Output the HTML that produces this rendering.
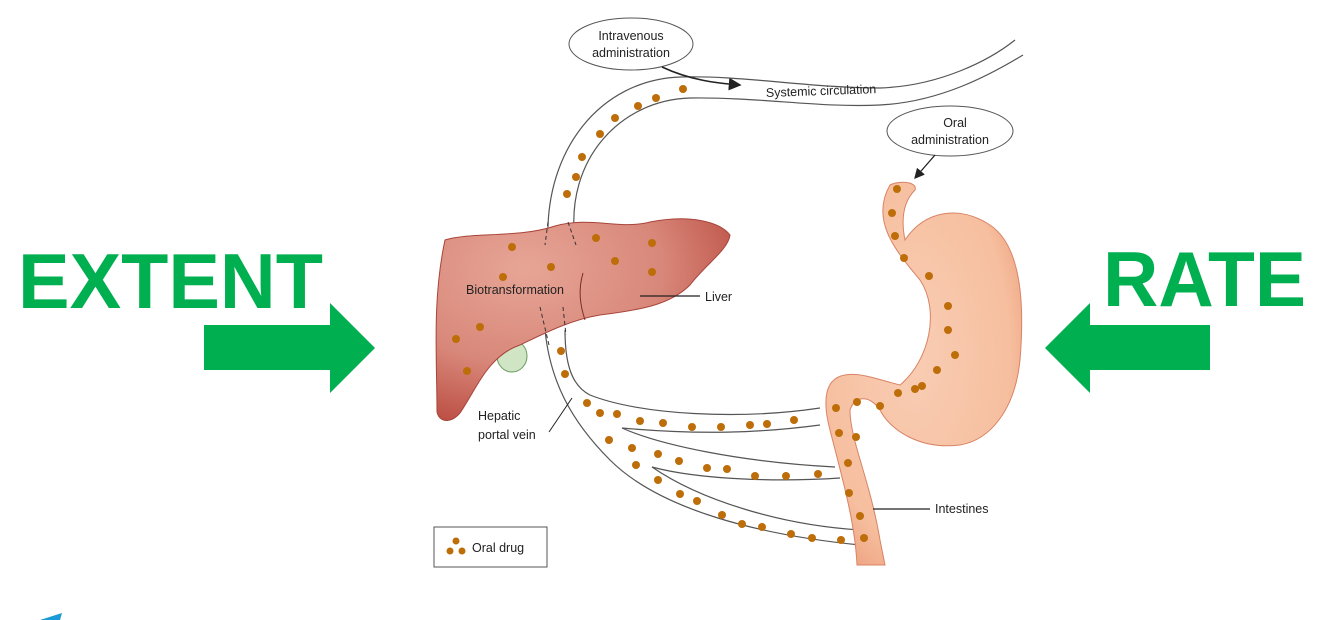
<!DOCTYPE html>
<html><head><meta charset="utf-8"><style>
html,body{margin:0;padding:0;background:#fff;}
svg{display:block}
</style></head><body>
<svg width="1334" height="620" viewBox="0 0 1334 620" xmlns="http://www.w3.org/2000/svg" font-family="Liberation Sans, sans-serif">
<defs>
<radialGradient id="lv" cx="0.3" cy="0.25" r="0.85"><stop offset="0" stop-color="#e7a596"/><stop offset="0.55" stop-color="#d8887a"/><stop offset="1" stop-color="#b8463c"/></radialGradient>
<radialGradient id="st" cx="0.45" cy="0.45" r="0.7"><stop offset="0" stop-color="#f9cdb4"/><stop offset="0.7" stop-color="#f6bf9f"/><stop offset="1" stop-color="#ea9774"/></radialGradient>
<marker id="ar" markerWidth="8" markerHeight="8" refX="7" refY="4" orient="auto"><path d="M0,0 L8,4 L0,8 z" fill="#222"/></marker>
</defs>

<text x="18" y="308" font-size="78" font-weight="bold" fill="#00b050" textLength="305" lengthAdjust="spacingAndGlyphs">EXTENT</text>
<text x="1103" y="306" font-size="78" font-weight="bold" fill="#00b050" textLength="203" lengthAdjust="spacingAndGlyphs">RATE</text>
<polygon points="204,325 330,325 330,303 375,348 330,393 330,370 204,370" fill="#00b050"/>
<polygon points="1210,325 1090,325 1090,303 1045,348 1090,393 1090,370 1210,370" fill="#00b050"/>
<path d="M40,620 L62,613 L60,620 z" fill="#1a9ad6"/>

<path d="M548,240 C545,150 600,80 680,77 C740,75 810,88 880,88 C940,86 990,60 1015,40" fill="none" stroke="#555" stroke-width="1.2"/>
<path d="M575,240 C565,160 620,100 690,98 C760,97 820,108 880,105 C940,102 990,75 1023,55" fill="none" stroke="#555" stroke-width="1.2"/>

<g fill="none" stroke="#555" stroke-width="1.2">
<path d="M545,330 C550,380 570,420 610,460 C660,510 760,535 860,545"/>
<path d="M565,330 C565,360 570,385 590,395 C640,415 740,420 820,408"/>
<path d="M622,428 C700,435 760,433 820,425"/>
<path d="M622,428 C660,445 740,462 835,467"/>
<path d="M652,467 C700,480 780,482 840,478"/>
<path d="M652,467 C700,500 780,525 860,530"/>
</g>

<ellipse cx="512" cy="356" rx="15" ry="16" fill="#cfe5c4" stroke="#6a9a60"/>
<path d="M445,240 C470,232 520,238 555,226 C590,216 620,230 650,222 C690,214 720,222 730,235 C728,250 705,265 690,285 C670,305 640,310 600,315 C570,320 545,333 520,345 C490,355 478,385 462,410 C455,422 440,425 437,412 C437,360 432,300 445,240 Z" fill="url(#lv)" stroke="#a8443a" stroke-width="1"/>
<path d="M583,273 C578,290 580,305 585,320" fill="none" stroke="#7a2e28" stroke-width="1"/>
<path d="M540,307 L549,345" stroke="#333" stroke-dasharray="4,3" fill="none"/>
<path d="M563,307 L566,335" stroke="#333" stroke-dasharray="4,3" fill="none"/>
<path d="M548,222 L545,245" stroke="#333" stroke-dasharray="4,3" fill="none"/>
<path d="M568,222 L576,245" stroke="#333" stroke-dasharray="4,3" fill="none"/>

<path d="M890,185 C900,180 918,182 915,190 C905,200 900,215 905,240 C925,210 960,205 990,225 C1020,245 1025,300 1020,360 C1015,410 990,440 960,445 C920,450 890,430 880,410 C870,395 855,395 850,410 C850,440 870,480 880,540 L885,565 L857,565 C855,520 840,470 830,430 C822,400 825,378 845,375 C860,372 880,380 900,385 C930,360 940,310 920,280 C895,250 870,220 890,185 Z" fill="url(#st)" stroke="#d98365" stroke-width="1"/>

<g fill="#bd6e08">
<circle cx="683" cy="89" r="4"/><circle cx="656" cy="98" r="4"/><circle cx="638" cy="106" r="4"/><circle cx="615" cy="118" r="4"/><circle cx="600" cy="134" r="4"/><circle cx="582" cy="157" r="4"/><circle cx="576" cy="177" r="4"/><circle cx="567" cy="194" r="4"/>
<circle cx="512" cy="247" r="4"/><circle cx="596" cy="238" r="4"/><circle cx="652" cy="243" r="4"/><circle cx="551" cy="267" r="4"/><circle cx="615" cy="261" r="4"/><circle cx="652" cy="272" r="4"/><circle cx="503" cy="277" r="4"/>
<circle cx="456" cy="339" r="4"/><circle cx="480" cy="327" r="4"/><circle cx="467" cy="371" r="4"/>
<circle cx="561" cy="351" r="4"/><circle cx="565" cy="374" r="4"/>
<circle cx="587" cy="403" r="4"/><circle cx="600" cy="413" r="4"/><circle cx="617" cy="414" r="4"/><circle cx="640" cy="421" r="4"/><circle cx="663" cy="423" r="4"/><circle cx="692" cy="427" r="4"/><circle cx="721" cy="427" r="4"/><circle cx="750" cy="425" r="4"/><circle cx="767" cy="424" r="4"/><circle cx="794" cy="420" r="4"/>
<circle cx="609" cy="440" r="4"/><circle cx="632" cy="448" r="4"/><circle cx="658" cy="454" r="4"/><circle cx="679" cy="461" r="4"/><circle cx="707" cy="468" r="4"/><circle cx="727" cy="469" r="4"/><circle cx="755" cy="476" r="4"/><circle cx="786" cy="476" r="4"/><circle cx="818" cy="474" r="4"/>
<circle cx="636" cy="465" r="4"/><circle cx="658" cy="480" r="4"/><circle cx="680" cy="494" r="4"/><circle cx="697" cy="501" r="4"/><circle cx="722" cy="515" r="4"/><circle cx="742" cy="524" r="4"/><circle cx="762" cy="527" r="4"/><circle cx="791" cy="534" r="4"/><circle cx="812" cy="538" r="4"/><circle cx="841" cy="540" r="4"/>
<circle cx="836" cy="408" r="4"/><circle cx="857" cy="402" r="4"/><circle cx="880" cy="406" r="4"/><circle cx="898" cy="393" r="4"/><circle cx="915" cy="389" r="4"/>
<circle cx="839" cy="433" r="4"/><circle cx="848" cy="463" r="4"/><circle cx="849" cy="493" r="4"/><circle cx="860" cy="516" r="4"/><circle cx="864" cy="538" r="4"/><circle cx="856" cy="437" r="4"/>
<circle cx="897" cy="189" r="4"/><circle cx="892" cy="213" r="4"/><circle cx="895" cy="236" r="4"/><circle cx="904" cy="258" r="4"/><circle cx="929" cy="276" r="4"/><circle cx="948" cy="306" r="4"/><circle cx="948" cy="330" r="4"/><circle cx="955" cy="355" r="4"/><circle cx="937" cy="370" r="4"/><circle cx="922" cy="386" r="4"/>
</g>

<ellipse cx="631" cy="44" rx="62" ry="26" fill="#fff" stroke="#555"/>
<text x="631" y="40" font-size="12.5" text-anchor="middle" fill="#222">Intravenous</text>
<text x="631" y="57" font-size="12.5" text-anchor="middle" fill="#222">administration</text>
<path d="M662,67 C690,80 715,83 740,85" fill="none" stroke="#222" stroke-width="1.6" marker-end="url(#ar)"/>
<text x="766" y="97" font-size="12.5" fill="#222" transform="rotate(-2 766 97)">Systemic circulation</text>
<ellipse cx="950" cy="131" rx="63" ry="25" fill="#fff" stroke="#555"/>
<text x="955" y="127" font-size="12.5" text-anchor="middle" fill="#222">Oral</text>
<text x="950" y="144" font-size="12.5" text-anchor="middle" fill="#222">administration</text>
<path d="M935,155 L915,178" stroke="#222" stroke-width="1.3" marker-end="url(#ar)"/>
<text x="466" y="294" font-size="12.5" fill="#222">Biotransformation</text>
<line x1="640" y1="296" x2="700" y2="296" stroke="#222" stroke-width="1.2"/>
<text x="705" y="301" font-size="12.5" fill="#222">Liver</text>
<text x="478" y="420" font-size="12.5" fill="#222">Hepatic</text>
<text x="478" y="439" font-size="12.5" fill="#222">portal vein</text>
<line x1="549" y1="432" x2="572" y2="398" stroke="#222"/>
<line x1="873" y1="509" x2="930" y2="509" stroke="#222" stroke-width="1.2"/>
<text x="935" y="513" font-size="12.5" fill="#222">Intestines</text>
<rect x="434" y="527" width="113" height="40" fill="#fff" stroke="#555"/>
<g fill="#bd6e08"><circle cx="456" cy="541" r="3.5"/><circle cx="450" cy="551" r="3.5"/><circle cx="462" cy="551" r="3.5"/></g>
<text x="472" y="552" font-size="12.5" fill="#222">Oral drug</text>
</svg>
</body></html>
